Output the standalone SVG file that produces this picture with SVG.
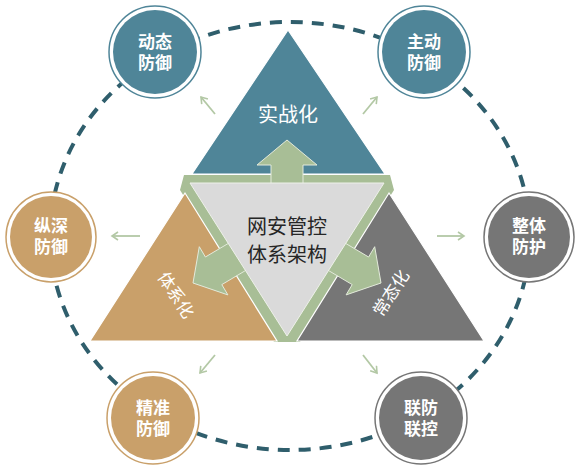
<svg xmlns="http://www.w3.org/2000/svg" width="580" height="469" viewBox="0 0 580 469">
<defs>
<marker id="ah" markerWidth="10" markerHeight="10" refX="8" refY="5" orient="auto" markerUnits="userSpaceOnUse">
<path d="M2,1 L8,5 L2,9" fill="none" stroke="#b3c8a5" stroke-width="1.6"/>
</marker>
<style>
.ring{fill:#fff;stroke-width:1.5}
.t{font-family:"Noto Sans CJK SC","Noto Sans",sans-serif;font-weight:bold;font-size:17px;fill:#fff;text-anchor:middle}
.teal{fill:#4f8598}.tealS{stroke:#4f8598}
.tan{fill:#c9a06a}.tanS{stroke:#c9a06a}
.gry{fill:#767676}.gryS{stroke:#767676}
.tri{stroke:#fff;stroke-width:1.2}
.big{fill:#a8be96;stroke:#e3eadb;stroke-width:1}
.sa{stroke:#b3c8a5;stroke-width:1.8;fill:none;marker-end:url(#ah)}
.lbl{font-family:"Noto Sans CJK SC","Noto Sans",sans-serif;font-size:17px;fill:#fff;text-anchor:middle}
.big20{font-size:20px}
.ctr{font-family:"Noto Sans CJK SC","Noto Sans",sans-serif;font-size:20px;fill:#262626;text-anchor:middle}
</style>
</defs>
<rect width="580" height="469" fill="#fff"/>
<g id="connectors">
<ellipse cx="290" cy="236" rx="240" ry="214" fill="none" stroke="#2f5e6c" stroke-width="4" stroke-dasharray="12 9"/>
<line class="sa" x1="215" y1="114" x2="201" y2="97"/>
<line class="sa" x1="363" y1="114" x2="377" y2="97"/>
<line class="sa" x1="140" y1="236" x2="112" y2="236"/>
<line class="sa" x1="437" y1="236" x2="464" y2="236"/>
<line class="sa" x1="215" y1="355" x2="200" y2="373"/>
<line class="sa" x1="363" y1="355" x2="377" y2="373"/>
</g>
<g id="node-dongtai">
<circle class="ring tealS" cx="155" cy="52" r="46"/>
<circle class="teal" cx="155" cy="52" r="42"/>
<text class="t" x="155" y="48">动态<tspan x="155" dy="21">防御</tspan></text>
</g>
<g id="node-zhudong">
<circle class="ring tealS" cx="424" cy="52" r="46"/>
<circle class="teal" cx="424" cy="52" r="42"/>
<text class="t" x="424" y="48">主动<tspan x="424" dy="21">防御</tspan></text>
</g>
<g id="node-zongshen">
<circle class="ring tanS" cx="51" cy="237" r="45"/>
<circle class="tan" cx="51" cy="237" r="41"/>
<text class="t" x="51" y="232">纵深<tspan x="51" dy="21">防御</tspan></text>
</g>
<g id="node-zhengti">
<circle class="ring gryS" cx="529" cy="237" r="45"/>
<circle class="gry" cx="529" cy="237" r="41"/>
<text class="t" x="529" y="232">整体<tspan x="529" dy="21">防护</tspan></text>
</g>
<g id="node-jingzhun">
<circle class="ring tanS" cx="153" cy="418" r="46"/>
<circle class="tan" cx="153" cy="418" r="42"/>
<text class="t" x="153" y="414">精准<tspan x="153" dy="21">防御</tspan></text>
</g>
<g id="node-lianfang">
<circle class="ring gryS" cx="421" cy="418" r="46"/>
<circle class="gry" cx="421" cy="418" r="42"/>
<text class="t" x="421" y="414">联防<tspan x="421" dy="21">联控</tspan></text>
</g>
<g id="core">
<polygon points="184,175 390,175 394,190 300,342 274,342 180,190" fill="#a8be96"/>
<polygon class="teal tri" points="288,30 192,174 385,174"/>
<polygon class="tan tri" points="185,193 90,341 277,341"/>
<polygon class="gry tri" points="389,193 484,341 297,341"/>
<polygon class="big" points="287,140 317,165 303,165 303,192 271,192 271,165 257,165"/>
<polygon class="big" points="193,283 227.9,294.9 221.8,284.6 256.2,264.2 239.8,236.6 205.4,257 199.3,246.7"/>
<polygon class="big" points="381,283 346.1,294.9 352.2,284.6 317.8,264.2 334.2,236.6 368.6,257 374.7,246.7"/>
<polygon points="190,183 384,183 287,336" fill="#dadada" stroke="#eef1ea" stroke-width="1"/>
<text class="lbl big20" x="288" y="122">实战化</text>
<text class="lbl" transform="translate(176,295) rotate(57)" x="0" y="6">体系化</text>
<text class="lbl" transform="translate(391,293) rotate(-57)" x="0" y="6">常态化</text>
<text class="ctr" x="287" y="234">网安管控<tspan x="287" dy="28">体系架构</tspan></text>
</g>
</svg>
